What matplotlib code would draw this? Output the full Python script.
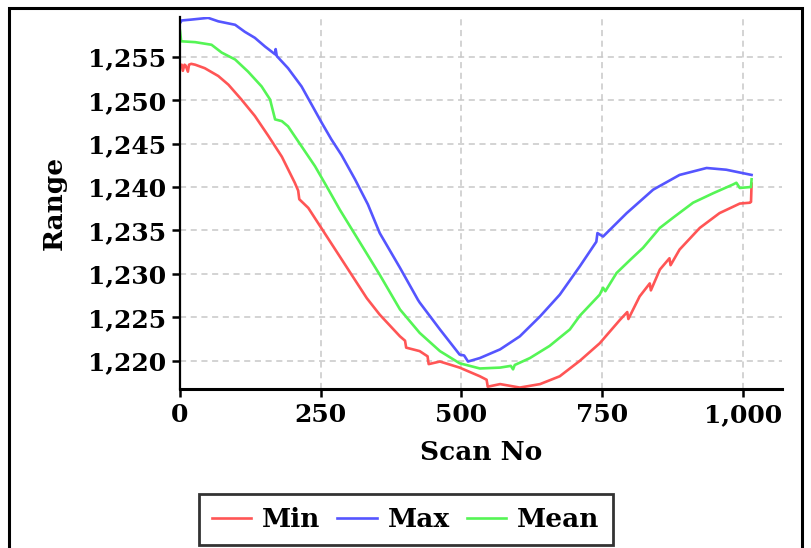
import matplotlib
matplotlib.use('Agg')
import matplotlib.pyplot as plt
from matplotlib.patches import Rectangle
from matplotlib.ticker import FuncFormatter, MultipleLocator

plt.rcParams['font.family'] = 'DejaVu Serif'
plt.rcParams['font.weight'] = 'bold'

# values (scan number, range)
min_scan = [0, 3, 5, 8, 10, 14, 16, 20, 27, 44, 68, 86, 109, 133, 157, 181, 204,
            210, 212, 228, 249, 284, 332, 355, 391, 400, 402, 426, 440, 442, 462,
            497, 533, 545, 547, 569, 604, 640, 675, 711, 746, 782, 795, 797, 817,
            835, 837, 853, 870, 872, 888, 924, 959, 995, 1013, 1015, 1016]
min_val = [1254.0, 1254.1, 1253.4, 1254.1, 1254.0, 1253.3, 1254.1, 1254.2, 1254.1,
           1253.7, 1252.8, 1251.8, 1250.1, 1248.2, 1245.9, 1243.5, 1240.5,
           1239.6, 1238.6, 1237.6, 1235.5, 1232.0, 1227.2, 1225.3, 1222.8, 1222.3,
           1221.5, 1221.1, 1220.5, 1219.6, 1219.9, 1219.2, 1218.2, 1217.8, 1217.0,
           1217.3, 1216.9, 1217.3, 1218.2, 1220.0, 1222.0, 1224.7, 1225.6, 1224.8,
           1227.4, 1228.9, 1228.1, 1230.5, 1231.8, 1231.0, 1232.8, 1235.3, 1237.0,
           1238.1, 1238.2, 1238.3, 1240.4]

max_scan = [0, 3, 20, 50, 68, 98, 115, 133, 151, 169, 170, 172, 192, 216, 234, 252,
            269, 287, 311, 334, 355, 391, 423, 426, 462, 497, 505, 512, 533, 569,
            604, 640, 675, 711, 740, 742, 752, 794, 841, 888, 936, 971, 1016]
max_val = [1258.9, 1259.2, 1259.3, 1259.5, 1259.1, 1258.7, 1257.9, 1257.2, 1256.2,
           1255.3, 1255.9, 1255.1, 1253.7, 1251.6, 1249.5, 1247.4, 1245.5, 1243.7,
           1240.9, 1238.0, 1234.7, 1230.7, 1227.0, 1226.7, 1223.6, 1220.7, 1220.6,
           1219.9, 1220.3, 1221.3, 1222.8, 1225.1, 1227.6, 1230.9, 1233.7, 1234.7,
           1234.3, 1237.0, 1239.7, 1241.4, 1242.2, 1242.0, 1241.4]

mean_scan = [0, 2, 27, 56, 74, 98, 121, 145, 160, 169, 181, 192, 216, 240, 264,
             284, 320, 355, 391, 426, 462, 497, 533, 569, 588, 592, 595, 622, 657,
             693, 711, 746, 752, 756, 776, 800, 823, 853, 877, 912, 948, 983, 989,
             995, 1013, 1015, 1016]
mean_val = [1258.0, 1256.8, 1256.7, 1256.4, 1255.5, 1254.7, 1253.3, 1251.6, 1250.1,
            1247.8, 1247.6, 1247.0, 1244.7, 1242.4, 1239.7, 1237.4, 1233.6, 1229.9,
            1225.9, 1223.2, 1221.1, 1219.7, 1219.1, 1219.2, 1219.4, 1219.0, 1219.5,
            1220.3, 1221.7, 1223.6, 1225.2, 1227.6, 1228.4, 1228.0, 1230.1, 1231.6,
            1233.0, 1235.3, 1236.5, 1238.2, 1239.3, 1240.3, 1240.5, 1239.9, 1240.0,
            1240.0, 1240.9]

fig = plt.figure(figsize=(8.12, 5.48), dpi=100)
ax = fig.add_axes([0.2217, 0.2896, 0.7413, 0.6794])

ax.plot(min_scan, min_val, color='#ff5555', lw=1.9, label='Min')
ax.plot(max_scan, max_val, color='#5555ff', lw=1.9, label='Max')
ax.plot(mean_scan, mean_val, color='#55f555', lw=1.9, label='Mean')

ax.set_xlim(0, 1070)
ax.set_ylim(1216.7, 1259.6)
ax.xaxis.set_major_locator(MultipleLocator(250))
ax.yaxis.set_major_locator(MultipleLocator(5))
fmt = FuncFormatter(lambda v, p: '{:,.0f}'.format(v))
ax.xaxis.set_major_formatter(fmt)
ax.yaxis.set_major_formatter(fmt)

ax.grid(True, color='#c8c8c8', linestyle=(0, (4, 3)), lw=1.1)
ax.set_axisbelow(True)
for s in ['top', 'right']:
    ax.spines[s].set_visible(False)
ax.spines['left'].set_linewidth(1.6)
ax.spines['bottom'].set_linewidth(2.2)
ax.tick_params(axis='both', labelsize=18, width=1.8, length=6, direction='out', pad=4)

ax.set_xlabel('Scan No', fontsize=19, fontweight='bold', labelpad=9)
ax.set_ylabel('Range', fontsize=19, fontweight='bold', labelpad=15)

leg = fig.legend(loc='center', bbox_to_anchor=(0.4994, 0.052), ncol=3, fontsize=19,
                 frameon=True, fancybox=False, handlelength=1.5, columnspacing=0.65,
                 handletextpad=0.4, borderpad=0.5, borderaxespad=0)
leg.get_frame().set_edgecolor('black')
leg.get_frame().set_linewidth(2)

# outer frame round the whole chart
fig.patches.append(Rectangle((0.0115, -0.05), 0.976, 1.035, transform=fig.transFigure,
                             fill=False, edgecolor='black', lw=2.2))

fig.savefig('out.png', dpi=100)
